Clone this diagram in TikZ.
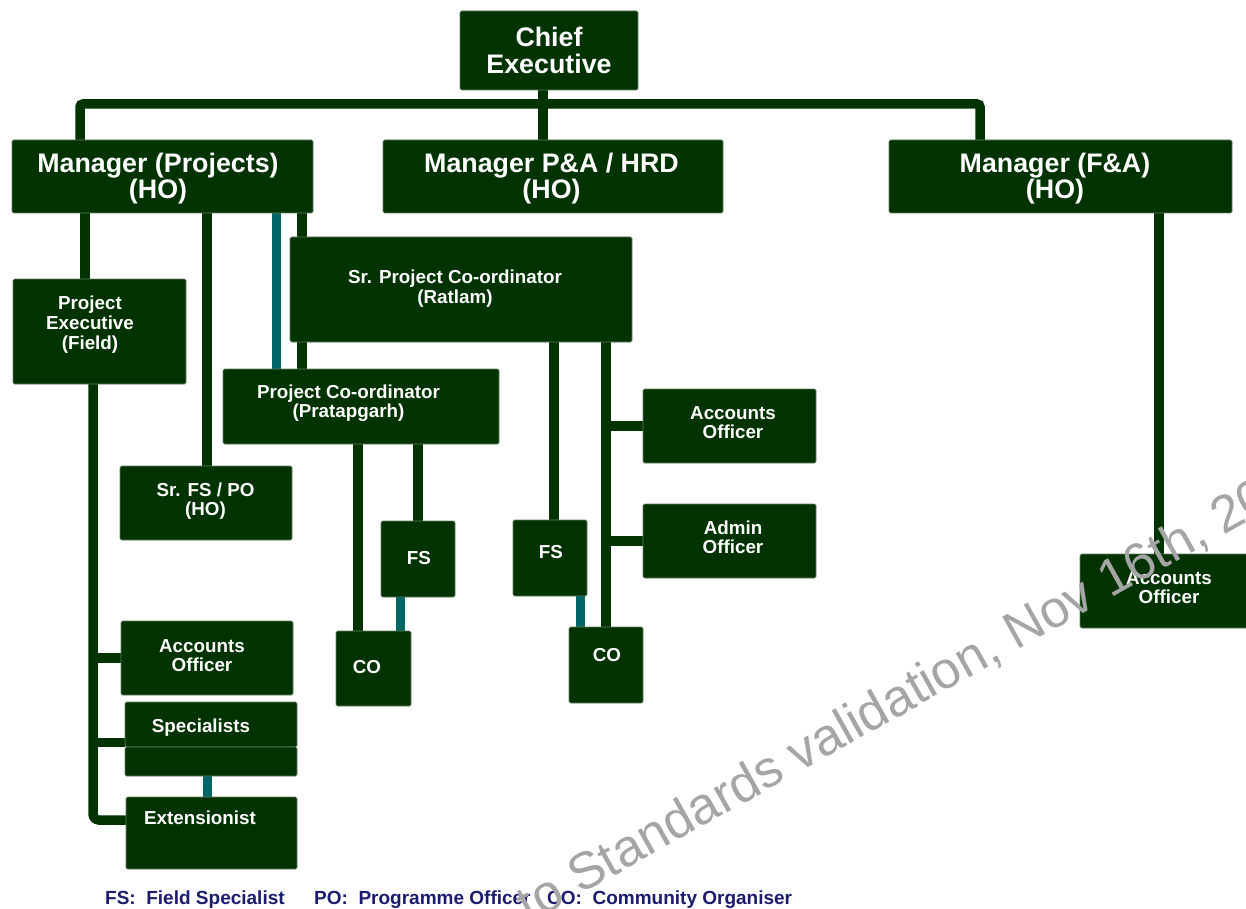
\documentclass[tikz,border=0pt]{standalone}
\usepackage{fontspec}
\setmainfont{Liberation Sans}
\usetikzlibrary{calc}
\definecolor{boxgreen}{RGB}{0,51,0}
\definecolor{edgegreen}{RGB}{95,125,95}
\definecolor{tealc}{RGB}{0,102,102}
\definecolor{navy}{RGB}{28,28,110}
\definecolor{wmgray}{RGB}{165,165,165}
\tikzset{
 conn/.style={draw=boxgreen, line width=9.5pt},
 tconn/.style={draw=tealc, line width=9pt},
 boxdraw/.style={fill=boxgreen, draw=edgegreen, line width=0.6pt, rounded corners=1.5pt},
 bigtxt/.style={text=white, font=\bfseries\fontsize{26.8}{27}\selectfont, anchor=base, inner sep=0pt},
 smltxt/.style={text=white, font=\bfseries\fontsize{18.8}{19}\selectfont, anchor=base, inner sep=0pt},
 legtxt/.style={text=navy, font=\bfseries\fontsize{19}{20}\selectfont, anchor=base west, inner sep=0pt},
 wmtxt/.style={text=wmgray, font=\fontsize{52}{52}\selectfont, anchor=base west, inner sep=0pt},
 slot/.style={inner sep=0pt, outer sep=0pt},
}
\begin{document}
\begin{tikzpicture}[x=1pt,y=-1pt]
\path[use as bounding box] (0,0) rectangle (1246,909);
\clip (0,0) rectangle (1246,909);
% helper coordinates
\coordinate (busL) at (80,104);
\coordinate (busR) at (980,104);
\coordinate (busM) at (543,104);
\coordinate (xA) at (85,0);
\coordinate (xB) at (207,0);
\coordinate (xT) at (276,0);
\coordinate (xC) at (302,0);
\coordinate (xD) at (93,0);
\coordinate (yExt) at (0,820);
\coordinate (ySp) at (0,742.5);
\coordinate (xE) at (358,0);
\coordinate (xF) at (418,0);
\coordinate (xG) at (400,0);
\coordinate (xH) at (554,0);
\coordinate (xI) at (606,0);
\coordinate (xJ) at (580.5,0);
\coordinate (xK) at (1159,0);
\coordinate (xL) at (207,0);
% box slots (shapes filled after the connectors)
\path node[slot, minimum width=178pt, minimum height=79pt] (chief) at (549,50.5) {}
 node[slot, minimum width=301pt, minimum height=73pt] (mproj) at (162.5,176.5) {}
 node[slot, minimum width=340pt, minimum height=73pt] (mpa) at (553,176.5) {}
 node[slot, minimum width=343pt, minimum height=73pt] (mfa) at (1060.5,176.5) {}
 node[slot, minimum width=173pt, minimum height=105pt] (pe) at (99.5,331.5) {}
 node[slot, minimum width=172pt, minimum height=74pt] (srfs) at (206,503) {}
 node[slot, minimum width=342pt, minimum height=105pt] (srpc) at (461,289.5) {}
 node[slot, minimum width=276pt, minimum height=75pt] (pc) at (361,406.5) {}
 node[slot, minimum width=74pt, minimum height=76pt] (fsa) at (418,559) {}
 node[slot, minimum width=75pt, minimum height=75pt] (coa) at (373.5,668.5) {}
 node[slot, minimum width=74pt, minimum height=76pt] (fsb) at (550,558) {}
 node[slot, minimum width=74pt, minimum height=76pt] (cob) at (606,665) {}
 node[slot, minimum width=173pt, minimum height=74pt] (aom) at (729.5,426) {}
 node[slot, minimum width=173pt, minimum height=74pt] (adm) at (729.5,541) {}
 node[slot, minimum width=170pt, minimum height=74pt] (aor) at (1165,591) {}
 node[slot, minimum width=172pt, minimum height=74pt] (aol) at (207,658) {}
 node[slot, minimum width=172pt, minimum height=45pt] (spec) at (211,724.5) {}
 node[slot, minimum width=172pt, minimum height=29pt] (specb) at (211,761.5) {}
 node[slot, minimum width=171pt, minimum height=72pt] (ext) at (211.5,833) {};
% connectors
\draw[conn, rounded corners=3pt] (busL |- mproj.north) -- (busL) -- (busR) -- (busR |- mfa.north);
\draw[conn] (busM |- chief.south) -- (busM |- mpa.north);
\draw[conn] (xA |- mproj.south) -- (xA |- pe.north);
\draw[conn] (xB |- mproj.south) -- (xB |- srfs.north);
\draw[tconn] (xT |- mproj.south) -- (xT |- pc.north);
\draw[conn] (xC |- mproj.south) -- (xC |- srpc.north);
\draw[conn] (xC |- srpc.south) -- (xC |- pc.north);
\draw[conn, rounded corners=6pt] (xD |- pe.south) -- (xD |- yExt) -- (ext.west |- yExt);
\draw[conn] (xD |- aol.west) -- (aol.west);
\draw[conn] (xD |- ySp) -- (spec.west |- ySp);
\draw[conn] (xE |- pc.south) -- (xE |- coa.north);
\draw[conn] (xF |- pc.south) -- (xF |- fsa.north);
\draw[tconn] (xG |- fsa.south) -- (xG |- coa.north);
\draw[conn] (xH |- srpc.south) -- (xH |- fsb.north);
\draw[conn] (xI |- srpc.south) -- (xI |- cob.north);
\draw[conn] (xI |- aom.west) -- (aom.west);
\draw[conn] (xI |- adm.west) -- (adm.west);
\draw[tconn] (xJ |- fsb.south) -- (xJ |- cob.north);
\draw[conn] (xK |- mfa.south) -- (xK |- aor.north);
\draw[tconn] (xL |- specb.south) -- (xL |- ext.north);
% boxes drawn
\foreach \n in {chief,mproj,mpa,mfa,pe,srfs,srpc,pc,fsa,coa,fsb,cob,aom,adm,aor,aol,spec,specb,ext}
  \path[boxdraw] (\n.north west) rectangle (\n.south east);
% texts
\node[bigtxt] (chiefa) at (549,46.5) {Chief};
\node[bigtxt] (chiefb) at (549,73.5) {Executive};
\node[bigtxt] (mproja) at (158,172.5) {Manager (Projects)};
\node[bigtxt] (mprojb) at (158,198.5) {(HO)};
\node[bigtxt] (mpaa) at (551.5,172.5) {Manager P\&A / HRD};
\node[bigtxt] (mpab) at (551.5,198.5) {(HO)};
\node[bigtxt] (mfaa) at (1055,172.5) {Manager (F\&A)};
\node[bigtxt] (mfab) at (1055,198.5) {(HO)};
\node[smltxt] (pea) at (90,309.7) {Project};
\node[smltxt] (peb) at (90,329.7) {Executive};
\node[smltxt] (pec) at (90,349.7) {(Field)};
\node[smltxt] (srfsa) at (205.5,496.7) {Sr. FS / PO};
\node[smltxt] (srfsb) at (205.5,515.7) {(HO)};
\node[smltxt] (srpca) at (455,283.7) {Sr. Project Co-ordinator};
\node[smltxt] (srpcb) at (455,303.7) {(Ratlam)};
\node[smltxt] (pca) at (348.5,398.7) {Project Co-ordinator};
\node[smltxt] (pcb) at (348.5,417.7) {(Pratapgarh)};
\node[smltxt] (aoma) at (733,419.7) {Accounts};
\node[smltxt] (aomb) at (733,438.7) {Officer};
\node[smltxt] (adma) at (733,534.7) {Admin};
\node[smltxt] (admb) at (733,553.7) {Officer};
\node[smltxt] (aora) at (1169,584.7) {Accounts};
\node[smltxt] (aorb) at (1169,603.7) {Officer};
\node[smltxt] (aola) at (202,652.7) {Accounts};
\node[smltxt] (aolb) at (202,671.7) {Officer};
\node[smltxt] (speca) at (201,732.7) {Specialists};
\node[smltxt] (exta) at (200,824.7) {Extensionist};
\node[smltxt] (fsat) at (419,564.7) {FS};
\node[smltxt] (fsbt) at (551,558.7) {FS};
\node[smltxt] (coat) at (367,673.7) {CO};
\node[smltxt] (cobt) at (607,661.7) {CO};
% legend
\node[legtxt] (lega) at (105,904.5) {FS:\ \ Field Specialist};
\node[legtxt] (legb) at (314,904.5) {PO:\ \ Programme Officer};
\node[legtxt] (legc) at (547,904.5) {CO:\ \ Community Organiser};
% watermark
\node[wmtxt, rotate=29.2] (wmk) at (529.6,923.2) {to Standards validation, Nov 16th, 2021};
\end{tikzpicture}
\end{document}
